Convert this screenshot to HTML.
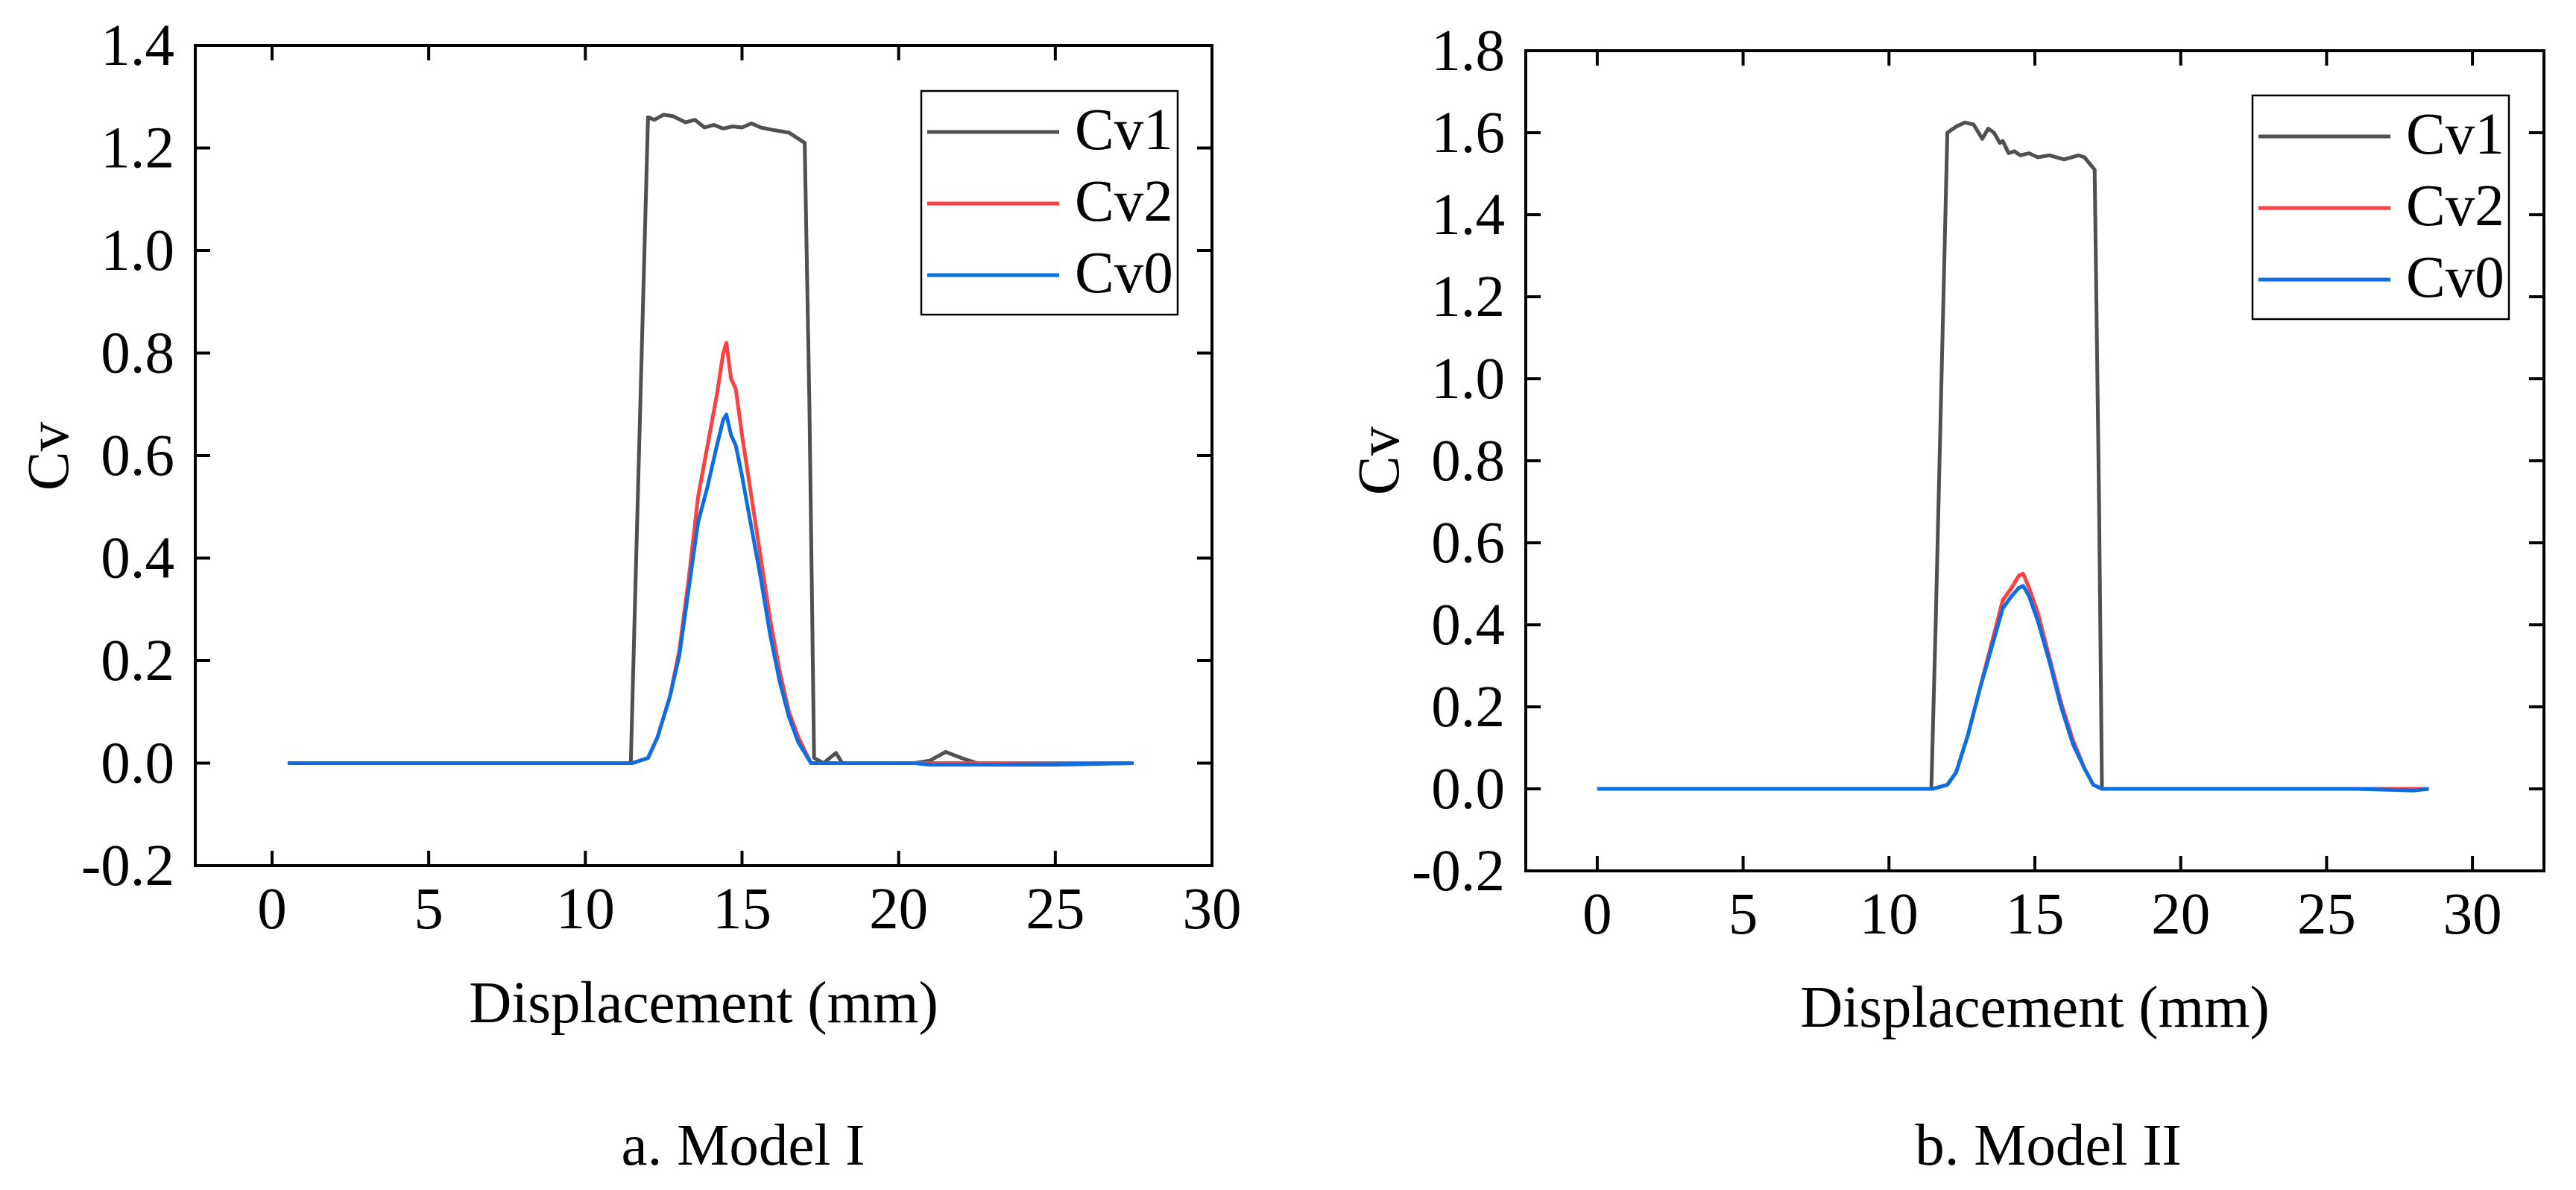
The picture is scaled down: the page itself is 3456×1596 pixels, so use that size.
<!DOCTYPE html>
<html><head><meta charset="utf-8"><style>
html,body{margin:0;padding:0;background:#fff;}
svg{display:block;}
text{font-family:"Liberation Serif",serif;fill:#000;}
</style></head><body>
<svg id="fig" width="3456" height="1596" viewBox="0 0 3456 1596" xmlns="http://www.w3.org/2000/svg"></svg>
<script>
// ---- Model I data ----
const m1Cv1X=[0.5,11.45,11.6,12.0,12.2,12.5,12.8,13.2,13.5,13.8,14.1,14.4,14.7,15.0,15.3,15.6,16.0,16.5,17.0,17.15,17.3,17.6,18.0,18.2,20.5,21.0,21.5,22.0,22.5,23.0,25.0,27.5];
const m1Cv1Y=[0,0,0.35,1.26,1.255,1.265,1.262,1.25,1.255,1.24,1.245,1.238,1.242,1.24,1.248,1.24,1.235,1.23,1.21,0.7,0.01,0.0,0.02,0,0,0.005,0.022,0.01,0,-0.003,-0.003,0];
const m1Cv2X=[0.5,11.5,12.0,12.3,12.7,13.0,13.3,13.6,13.9,14.2,14.4,14.5,14.65,14.8,15.0,15.3,15.6,15.9,16.2,16.5,16.8,17.2,27.5];
const m1Cv2Y=[0,0,0.01,0.05,0.13,0.22,0.36,0.52,0.62,0.72,0.80,0.82,0.75,0.73,0.64,0.52,0.40,0.28,0.18,0.10,0.05,0,0];
const m1Cv0X=[0.5,11.5,12.0,12.3,12.7,13.0,13.3,13.6,13.9,14.2,14.4,14.5,14.65,14.8,15.0,15.3,15.6,15.9,16.2,16.5,16.8,17.2,20.5,21.0,23.0,25.0,27.5];
const m1Cv0Y=[0,0,0.01,0.05,0.13,0.21,0.34,0.47,0.54,0.62,0.67,0.68,0.64,0.62,0.56,0.46,0.36,0.25,0.16,0.09,0.04,0,0,-0.003,-0.003,-0.002,0];
// ---- Model II data ----
const m2Cv1X=[0,11.45,11.6,12.0,12.3,12.6,12.9,13.2,13.4,13.6,13.8,13.9,14.1,14.3,14.5,14.8,15.1,15.5,16.0,16.5,16.7,17.05,17.2,17.3,28.5];
const m2Cv1Y=[0,0,0.4,1.60,1.615,1.625,1.62,1.585,1.61,1.60,1.575,1.58,1.55,1.555,1.545,1.55,1.54,1.545,1.535,1.545,1.54,1.51,0.7,0,0];
const m2Cv2X=[0,11.5,12.0,12.3,12.7,13.1,13.5,13.9,14.2,14.45,14.6,14.8,15.1,15.5,15.9,16.3,16.7,17.0,17.3,28.5];
const m2Cv2Y=[0,0,0.01,0.04,0.13,0.24,0.35,0.46,0.49,0.52,0.525,0.49,0.43,0.32,0.21,0.12,0.05,0.01,0,0];
const m2Cv0X=[0,11.5,12.0,12.3,12.7,13.1,13.5,13.9,14.2,14.45,14.6,14.8,15.1,15.5,15.9,16.3,16.7,17.0,17.3,26.0,28.0,28.5];
const m2Cv0Y=[0,0,0.01,0.04,0.13,0.24,0.34,0.44,0.47,0.49,0.495,0.47,0.41,0.31,0.20,0.11,0.05,0.01,0,0,-0.004,0];
// ---- ticks ----
const xTicks=[0,5,10,15,20,25,30];
const yTicks1=[-0.2,0.0,0.2,0.4,0.6,0.8,1.0,1.2,1.4];
const yTicks2=[-0.2,0.0,0.2,0.4,0.6,0.8,1.0,1.2,1.4,1.6,1.8];
const seriesNames=["Cv1","Cv2","Cv0"];

const NS="http://www.w3.org/2000/svg";
const svg=document.getElementById('fig');
function mk(tag,attrs,parent){const e=document.createElementNS(NS,tag);for(const k in attrs)e.setAttribute(k,attrs[k]);(parent||svg).appendChild(e);return e;}
const colors=["#505050","#ff4040","#0b6fe3"];

function panel(cfg){
  const g=mk('g',{});
  
  
  const {L,R,T,B,x0,x1,y0,y1}=cfg;
  const sx=v=>L+(v-x0)/(x1-x0)*(R-L);
  const sy=v=>B-(v-y0)/(y1-y0)*(B-T);
  cfg.series.forEach((s,i)=>{
    let d='';
    s.x.forEach((xv,j)=>{d+=(j?'L':'M')+sx(xv).toFixed(1)+' '+sy(s.y[j]).toFixed(1);});
    const p=mk('path',{d:d,fill:'none',stroke:colors[i],'stroke-width':5,'stroke-linejoin':'round'},g);
    
    
  });
  const fr=mk('rect',{x:L,y:T,width:R-L,height:B-T,fill:'none',stroke:'#000','stroke-width':4},g);
  
  
  xTicks.forEach(v=>{
    const x=sx(v);
    mk('line',{x1:x,y1:B,x2:x,y2:B-20,stroke:'#000','stroke-width':4},g);
    mk('line',{x1:x,y1:T,x2:x,y2:T+20,stroke:'#000','stroke-width':4},g);
    const t=mk('text',{x:x,y:B+84,'font-size':79,'text-anchor':'middle'},g);
    t.textContent=String(v);
    
    
  });
  cfg.yTicks.forEach(v=>{
    const y=sy(v);
    mk('line',{x1:L,y1:y,x2:L+20,y2:y,stroke:'#000','stroke-width':4},g);
    mk('line',{x1:R,y1:y,x2:R-20,y2:y,stroke:'#000','stroke-width':4},g);
    const t=mk('text',{x:L-28,y:y+26,'font-size':79,'text-anchor':'end'},g);
    t.textContent=v.toFixed(1);
    
    
  });
  const xt=mk('text',{x:(L+R)/2,y:cfg.xTitleY,'font-size':79,'text-anchor':'middle'},g);
  xt.textContent='Displacement (mm)';
  
  
  const yt=mk('text',{x:0,y:0,'font-size':79,'text-anchor':'middle',transform:`translate(${cfg.yTitleX},${cfg.yTitleY}) rotate(-90)`},g);
  yt.textContent='Cv';
  
  
  const cap=mk('text',{x:cfg.capX,y:1562,'font-size':79,'text-anchor':'middle'},g);
  cap.textContent=cfg.caption;
  
  
  const lg=mk('g',{},g);
  
  
  const lx=cfg.legX, ly=cfg.legY;
  mk('rect',{x:lx,y:ly,width:344,height:300,fill:'#fff',stroke:'#000','stroke-width':2.5},lg);
  seriesNames.forEach((n,i)=>{
    const yy=ly+55+i*96;
    const e=mk('g',{},lg);
    
    
    mk('line',{x1:lx+8,y1:yy,x2:lx+185,y2:yy,stroke:colors[i],'stroke-width':5},e);
    const t=mk('text',{x:lx+206,y:yy+23,'font-size':79},e);
    t.textContent=n;
  });
}
panel({name:'chart-model-1',L:262,R:1626,T:61,B:1161,x0:-2.45,x1:30,y0:-0.2,y1:1.4,yTicks:yTicks1,
  series:[{x:m1Cv1X,y:m1Cv1Y},{x:m1Cv2X,y:m1Cv2Y},{x:m1Cv0X,y:m1Cv0Y}],
  xTitleY:1371,yTitleX:91,yTitleY:612,capX:997,caption:'a. Model I',legX:1236,legY:122});
panel({name:'chart-model-2',L:2047,R:3413,T:68,B:1168,x0:-2.45,x1:32.45,y0:-0.2,y1:1.8,yTicks:yTicks2,
  series:[{x:m2Cv1X,y:m2Cv1Y},{x:m2Cv2X,y:m2Cv2Y},{x:m2Cv0X,y:m2Cv0Y}],
  xTitleY:1377,yTitleX:1876,yTitleY:618,capX:2748,caption:'b. Model II',legX:3022,legY:128});
</script>
</body></html>
